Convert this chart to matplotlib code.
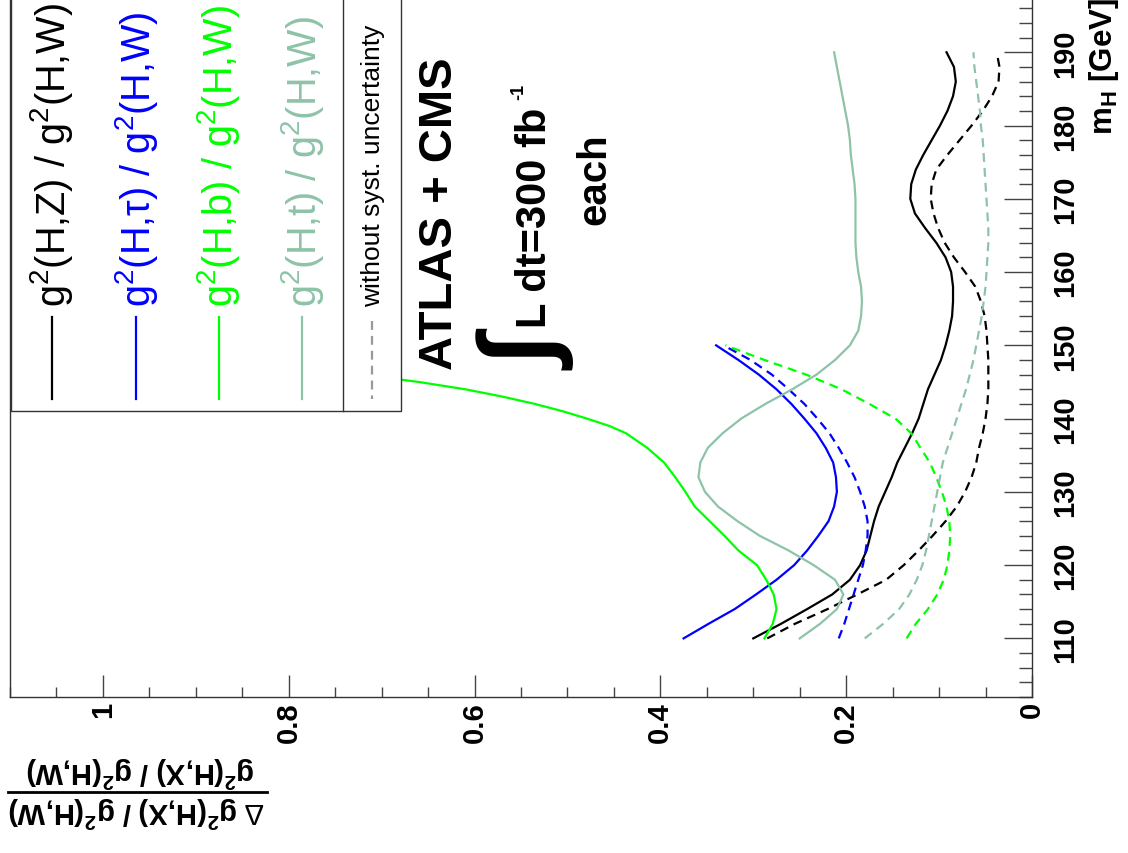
import matplotlib
matplotlib.use('Agg')

import matplotlib.pyplot as plt
from matplotlib.patches import Rectangle
from matplotlib.lines import Line2D
from matplotlib.ticker import MultipleLocator

plt.rcParams['font.family'] = ['Liberation Sans', 'DejaVu Sans']
plt.rcParams['mathtext.fontset'] = 'custom'
plt.rcParams['mathtext.rm'] = 'Liberation Sans'
plt.rcParams['mathtext.it'] = 'Liberation Sans:italic'
plt.rcParams['mathtext.bf'] = 'Liberation Sans:bold'

# Higgs masses (GeV)
mh_full = [110, 112, 114, 116, 118, 120, 122, 124, 126, 128, 130, 132, 134, 136,
           138, 140, 142, 144, 146, 148, 150, 152, 154, 156, 158, 160, 162, 164,
           166, 168, 170, 172, 174, 176, 178, 180, 182, 184, 186, 188, 190]
mh_low = [110, 112, 114, 116, 118, 120, 122, 124, 126, 128, 130, 132, 134, 136,
          138, 140, 142, 144, 146, 148, 150]
mh_b = [110, 112, 114, 116, 118, 120, 122, 124, 126, 128, 130, 132, 134, 136,
        138, 139, 140, 141, 142, 143, 144, 145, 146, 148, 150]

# relative errors, with syst. uncertainty (solid) / without (dashed)
hz_sys = [0.300, 0.270, 0.242, 0.215, 0.196, 0.185, 0.178, 0.174, 0.170, 0.165,
          0.158, 0.151, 0.145, 0.137, 0.129, 0.122, 0.117, 0.112, 0.105, 0.098,
          0.093, 0.089, 0.086, 0.085, 0.085, 0.087, 0.093, 0.103, 0.115, 0.126,
          0.131, 0.130, 0.125, 0.117, 0.108, 0.099, 0.091, 0.085, 0.082, 0.084,
          0.092]
hz_nosys = [0.285, 0.255, 0.220, 0.188, 0.157, 0.138, 0.122, 0.107, 0.093, 0.081,
            0.072, 0.065, 0.060, 0.057, 0.053, 0.050, 0.048, 0.047, 0.047, 0.047,
            0.048, 0.049, 0.051, 0.055, 0.061, 0.072, 0.084, 0.094, 0.101, 0.106,
            0.109, 0.108, 0.103, 0.091, 0.078, 0.065, 0.053, 0.043, 0.036, 0.035,
            0.038]
htau_sys = [0.375, 0.348, 0.320, 0.297, 0.275, 0.256, 0.242, 0.230, 0.219, 0.213,
            0.210, 0.211, 0.214, 0.222, 0.232, 0.245, 0.259, 0.275, 0.294, 0.316,
            0.340]
htau_nosys = [0.208, 0.202, 0.197, 0.192, 0.187, 0.182, 0.179, 0.177, 0.177, 0.180,
              0.185, 0.191, 0.199, 0.208, 0.218, 0.231, 0.245, 0.262, 0.280, 0.303,
              0.332]
hb_sys = [0.288, 0.279, 0.275, 0.278, 0.286, 0.296, 0.316, 0.331, 0.347, 0.363,
          0.373, 0.384, 0.396, 0.414, 0.437, 0.455, 0.479, 0.505, 0.535, 0.570,
          0.610, 0.660, 0.720, 0.870, 1.050]
hb_nosys = [0.135, 0.125, 0.112, 0.102, 0.095, 0.091, 0.089, 0.088, 0.089, 0.092,
            0.097, 0.103, 0.110, 0.120, 0.130, 0.147, 0.175, 0.205, 0.243, 0.288,
            0.330]
ht_sys = [0.250, 0.228, 0.210, 0.203, 0.212, 0.235, 0.262, 0.293, 0.317, 0.338,
          0.352, 0.359, 0.357, 0.349, 0.333, 0.313, 0.287, 0.258, 0.232, 0.212,
          0.196, 0.187, 0.184, 0.183, 0.184, 0.187, 0.189, 0.190, 0.190, 0.190,
          0.190, 0.191, 0.193, 0.195, 0.196, 0.198, 0.201, 0.204, 0.207, 0.210,
          0.213]
ht_nosys = [0.180, 0.160, 0.143, 0.132, 0.124, 0.118, 0.114, 0.111, 0.108, 0.105,
            0.102, 0.099, 0.096, 0.091, 0.086, 0.081, 0.076, 0.071, 0.067, 0.063,
            0.060, 0.057, 0.054, 0.052, 0.050, 0.049, 0.048, 0.047, 0.047, 0.048,
            0.049, 0.050, 0.051, 0.052, 0.053, 0.055, 0.056, 0.058, 0.060, 0.062,
            0.063]

ratio_ticks = [0, 0.2, 0.4, 0.6, 0.8, 1.0]
ratio_labels = ['0', '0.2', '0.4', '0.6', '0.8', '1']
mh_ticks = [110, 120, 130, 140, 150, 160, 170, 180, 190]
mh_labels = ['110', '120', '130', '140', '150', '160', '170', '180', '190']

legend_labels = [r'g$^2$(H,Z) / g$^2$(H,W)',
                 r'g$^2$(H,$\mathrm{\tau}$) / g$^2$(H,W)',
                 r'g$^2$(H,b) / g$^2$(H,W)',
                 r'g$^2$(H,t) / g$^2$(H,W)']

BLACK = 'black'
BLUE = '#0000ff'
GREEN = '#00ff00'
TEAL = '#8ec3a7'
DASH = (4, 2.7)

W, H = 1128, 854


def fx(x):
    return x / W


def fy(y):
    return 1 - y / H


fig = plt.figure(figsize=(W / 100, H / 100), dpi=100)
# whole plot is turned by 90 degrees: m_H runs upwards, ratio runs to the left
ax = fig.add_axes([fx(10), fy(698), (1032 - 10) / W, 718 / H])
ax.set_xlim(1.1, 0)
ax.set_ylim(102, 200)

kw = dict(lw=1.6, solid_joinstyle='round', dash_joinstyle='round')
ax.plot(hz_sys, mh_full, color=BLACK, **kw)
ax.plot(hz_nosys, mh_full, color=BLACK, dashes=DASH, **kw)
ax.plot(htau_sys, mh_low, color=BLUE, **kw)
ax.plot(htau_nosys, mh_low, color=BLUE, dashes=DASH, **kw)
ax.plot(hb_sys, mh_b, color=GREEN, **kw)
ax.plot(hb_nosys, mh_low, color=GREEN, dashes=DASH, **kw)
ax.plot(ht_sys, mh_full, color=TEAL, **kw)
ax.plot(ht_nosys, mh_full, color=TEAL, dashes=DASH, **kw)

for s in ax.spines.values():
    s.set_color('#333333')
    s.set_linewidth(1)

ax.set_xticks(ratio_ticks, ratio_labels, rotation=90, fontsize=21,
              fontweight='bold')
ax.xaxis.set_minor_locator(MultipleLocator(0.05))
ax.tick_params(axis='x', which='both', direction='in', top=False, pad=3,
               color='#444444', width=1)
ax.tick_params(axis='x', which='major', length=16)
ax.tick_params(axis='x', which='minor', length=7)

ax.yaxis.tick_right()
ax.set_yticks(mh_ticks, mh_labels, rotation=90, va='center', fontsize=21,
              fontweight='bold')
ax.yaxis.set_minor_locator(MultipleLocator(2))
ax.tick_params(axis='y', which='both', direction='in', left=False, right=True,
               pad=14, color='#444444', width=1)
ax.tick_params(axis='y', which='major', length=20)
ax.tick_params(axis='y', which='minor', length=9.5)

# axis titles
fig.text(fx(1104), fy(-2), r'm$_{\mathbf{H}}$ [GeV]', rotation=90,
         ha='center', va='top', fontsize=22.5, fontweight='bold')
fig.text(fx(137), fy(812), r'$\Delta$ g$^{\mathbf{2}}$(H,X) / g$^{\mathbf{2}}$(H,W)',
         rotation=180, ha='center', va='center', fontsize=21, fontweight='bold')
fig.text(fx(140), fy(772), r'g$^{\mathbf{2}}$(H,X) / g$^{\mathbf{2}}$(H,W)',
         rotation=180, ha='center', va='center', fontsize=21, fontweight='bold')
fig.add_artist(Line2D([fx(8), fx(267)], [fy(793), fy(793)], color='black', lw=2))

# legend boxes
fig.add_artist(Rectangle((fx(11), fy(412)), (401 - 11) / W, 422 / H,
                         transform=fig.transFigure, facecolor='white',
                         edgecolor='#333333', lw=1, zorder=5))
fig.add_artist(Line2D([fx(343), fx(343)], [fy(412), fy(-10)], color='#333333',
                      lw=1, zorder=6))
for lab, col, xc in zip(legend_labels, [BLACK, BLUE, GREEN, TEAL],
                        [52, 136, 219, 302]):
    fig.add_artist(Line2D([fx(xc), fx(xc)], [fy(318), fy(400)], color=col,
                          lw=1.6, zorder=6))
    fig.text(fx(xc), fy(307), lab, rotation=90, ha='center', va='bottom',
             fontsize=28.5, color=col, zorder=7)
fig.add_artist(Line2D([fx(372), fx(372)], [fy(322), fy(400)], color='#999999',
                      lw=1.6, dashes=DASH, zorder=6))
fig.text(fx(373), fy(307), 'without syst. uncertainty', rotation=90,
         ha='center', va='bottom', fontsize=19, zorder=7)

# annotation
fig.text(fx(440), fy(370), 'ATLAS + CMS', rotation=90, ha='center',
         va='bottom', fontsize=34, fontweight='bold')
fig.text(fx(532), fy(356), '\u222b', rotation=90, ha='center', va='center',
         fontsize=74, fontweight='bold')
fig.text(fx(535), fy(328), 'L dt=300 fb', rotation=90,
         ha='center', va='bottom', fontsize=30, fontweight='bold')
fig.text(fx(519), fy(100), '-1', rotation=90,
         ha='center', va='bottom', fontsize=13, fontweight='bold')
fig.text(fx(594), fy(179), 'each', rotation=90, ha='center', va='center',
         fontsize=29, fontweight='bold')

fig.savefig('out.png', dpi=100)
plt.close(fig)
